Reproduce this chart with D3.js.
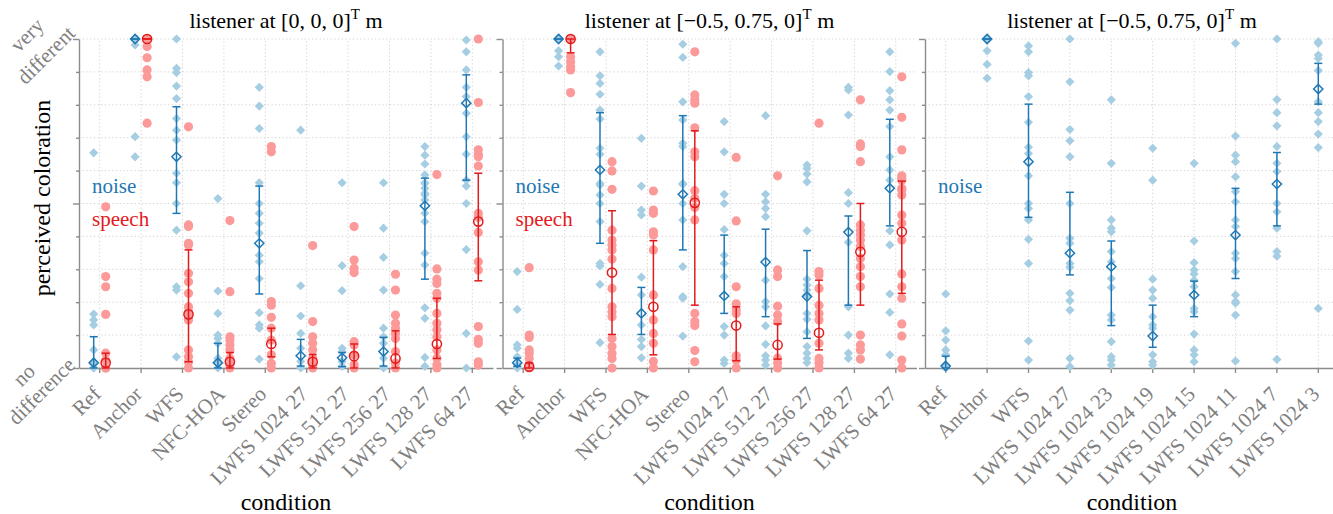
<!DOCTYPE html>
<html><head><meta charset="utf-8">
<script src="https://cdn.jsdelivr.net/npm/d3@7"></script>
<style>
html,body{margin:0;padding:0;background:#fff;}
text{font-family:'Liberation Serif','Times New Roman',serif;}
</style></head>
<body>
<script>
// ---------- DATA ----------
const catsA = ["Ref","Anchor","WFS","NFC-HOA","Stereo","LWFS 1024 27","LWFS 512 27","LWFS 256 27","LWFS 128 27","LWFS 64 27"];
const catsB = ["Ref","Anchor","WFS","LWFS 1024 27","LWFS 1024 23","LWFS 1024 19","LWFS 1024 15","LWFS 1024 11","LWFS 1024 7","LWFS 1024 3"];
const yTicks = [0,0.1,0.2,0.3,0.4,0.5,0.6,0.7,0.8,0.9,1];
const yMajor = [0,0.5,1];
const yLabelsTop = ["very","different"];
const yLabelsBottom = ["no","difference"];

// panel 1: listener at [0,0,0]
const p1NoisePts = [
 [0.654,0.164,0.146,0.131,0.055,0.015,0,0],
 [1.0,0.982,0.703,0.642,1.0,1.0],
 [1.0,0.911,0.898,0.857,0.819,0.758,0.723,0.693,0.592,0.563,0.5,0.419,0.247,0.237,0.034],
 [0.515,0.234,0.166,0.1,0.09,0.075,0.03,0.015,0],
 [0.853,0.796,0.728,0.563,0.5,0.47,0.44,0.41,0.343,0.323,0.272,0.168,0.131,0.121,0.027],
 [0.723,0.25,0.158,0.105,0.06,0.02,0],
 [0.563,0.311,0.235,0.06,0.05,0.02,0.005],
 [0.563,0.425,0.336,0.237,0.121,0.095,0.075,0.03,0],
 [0.673,0.647,0.62,0.587,0.563,0.546,0.531,0.561,0.526,0.511,0.47,0.445,0.349,0.313,0.183,0.151,0.032,0.005],
 [0.997,0.961,0.906,0.853,0.825,0.774,0.703,0.65,0.553,0.571,0.5,0.36,0.105,0]
];
const p1NoiseMean = [0.016,1.0,0.642,0.016,0.379,0.037,0.031,0.05,0.493,0.805];
const p1NoiseLo   = [0,1.0,0.470,0,0.225,0.006,0.004,0.006,0.27,0.571];
const p1NoiseHi   = [0.095,1.0,0.794,0.075,0.553,0.087,0.047,0.093,0.577,0.891];
const p1SpeechPts = [
 [0.49,0.278,0.247,0.163,0.045,0.024,0,0],
 [1.0,0.977,0.943,0.906,0.885,0.744,1.0],
 [0.733,0.435,0.43,0.379,0.374,0.288,0.262,0.227,0.186,0.171,0.156,0.146,0.055,0.034,0.018,0],
 [0.448,0.232,0.095,0.085,0.07,0.055,0.03,0.01,0],
 [0.673,0.657,0.202,0.191,0.154,0.121,0.085,0.04,0.014,0],
 [0.372,0.141,0.095,0.075,0.055,0.03,0.01,0],
 [0.43,0.328,0.303,0.29,0.08,0.07,0.04,0.01,0],
 [0.285,0.237,0.161,0.136,0.121,0.105,0.09,0.05,0.015,0],
 [0.588,0.301,0.27,0.257,0.227,0.212,0.166,0.136,0.116,0.095,0.055,0.03,0.01,0],
 [1.0,0.807,0.663,0.65,0.642,0.614,0.47,0.458,0.412,0.323,0.298,0.126,0.087,0.075,0.019,0.009]
];
const p1SpeechMean = [0.016,1.0,0.163,0.019,0.073,0.019,0.036,0.029,0.073,0.445];
const p1SpeechLo   = [0,1.0,0.019,0,0.034,0,0,0,0.029,0.265];
const p1SpeechHi   = [0.045,1.0,0.359,0.047,0.121,0.041,0.073,0.113,0.212,0.592];

// panel 2: listener at [-0.5,0.75,0]
const p2NoisePts = [
 [0.293,0.178,0.07,0.06,0.034,0.01,0],
 [1.0,0.964,0.946,0.918],
 [0.961,0.888,0.865,0.832,0.784,0.757,0.668,0.65,0.556,0.526,0.561,0.5,0.445,0.318,0.31,0.254,0.077],
 [0.698,0.553,0.48,0.465,0.276,0.222,0.131,0.087,0.065,0.031],
 [0.984,0.944,0.809,0.754,0.683,0.673,0.558,0.561,0.5,0.45,0.308,0.217,0.212,0.097],
 [0.749,0.657,0.528,0.5,0.421,0.343,0.318,0.278,0.126,0.1,0.024,0.014],
 [0.767,0.528,0.505,0.485,0.46,0.267,0.202,0.186,0.128,0.072,0.037,0.024,0.009],
 [0.617,0.607,0.59,0.566,0.417,0.27,0.252,0.237,0.222,0.166,0.148,0.11,0.065,0.045,0.029,0.016],
 [0.853,0.845,0.769,0.533,0.5,0.382,0.186,0.1,0.045,0.029],
 [0.961,0.901,0.843,0.815,0.784,0.734,0.642,0.602,0.571,0.417,0.374,0.225,0.169,0.04]
];
const p2NoiseMean = [0.016,1.0,0.602,0.166,0.528,0.219,0.322,0.217,0.413,0.546];
const p2NoiseLo   = [0.005,1.0,0.379,0.102,0.359,0.166,0.156,0.09,0.191,0.432];
const p2NoiseHi   = [0.03,1.0,0.776,0.245,0.767,0.404,0.422,0.357,0.462,0.756];
const p2SpeechPts = [
 [0.305,0.1,0.093,0.055,0.045,0.029,0.01,0],
 [1.0,0.946,0.931,0.916,0.906,0.837],
 [0.627,0.599,0.543,0.419,0.389,0.374,0.359,0.331,0.242,0.186,0.171,0.156,0.09,0.065,0.045,0.029,0],
 [0.538,0.48,0.47,0.414,0.404,0.359,0.222,0.146,0.105,0.075,0.02,0],
 [0.961,0.83,0.815,0.805,0.73,0.657,0.642,0.539,0.516,0.488,0.45,0.166,0.141,0.129,0.053,0.019],
 [0.64,0.447,0.247,0.195,0.176,0.166,0.037,0.024,0],
 [0.584,0.298,0.278,0.188,0.161,0.141,0.03,0.015,0],
 [0.744,0.293,0.283,0.242,0.191,0.166,0.146,0.075,0.029,0.016,0],
 [0.815,0.681,0.673,0.627,0.435,0.419,0.404,0.389,0.369,0.333,0.308,0.278,0.247,0.1,0.07,0.055,0.027],
 [0.885,0.762,0.663,0.584,0.577,0.541,0.526,0.571,0.546,0.465,0.44,0.389,0.286,0.247,0.212,0.134,0.097,0.024,0]
];
const p2SpeechMean = [0.004,1.0,0.29,0.186,0.502,0.129,0.07,0.107,0.353,0.414];
const p2SpeechLo   = [0,0.958,0.102,0.04,0.191,0.022,0.027,0.055,0.191,0.227];
const p2SpeechHi   = [0.015,1.0,0.478,0.387,0.721,0.186,0.134,0.267,0.5,0.568];

// panel 3: listener at [-0.5,0.75,0], noise only
const p3NoisePts = [
 [0.225,0.113,0.085,0.055,0.04,0.01,0],
 [1.0,0.997,0.964,0.923,0.881],
 [0.979,0.961,0.898,0.888,0.825,0.747,0.671,0.652,0.584,0.5,0.485,0.45,0.391,0.318,0.082,0.024],
 [1.0,0.87,0.725,0.691,0.642,0.5,0.394,0.379,0.318,0.306,0.227,0.205,0.176,0.029,0.004],
 [0.815,0.622,0.45,0.425,0.414,0.354,0.323,0.272,0.245,0.161,0.146,0.08,0.034,0.024,0.009],
 [0.668,0.571,0.27,0.237,0.212,0.156,0.131,0.121,0.04,0.019,0.009],
 [0.622,0.386,0.32,0.298,0.286,0.267,0.247,0.181,0.171,0.103,0.055,0.04,0.019],
 [0.987,0.705,0.647,0.627,0.581,0.536,0.505,0.45,0.43,0.349,0.333,0.293,0.222,0.202,0.197,0.161,0.021],
 [1.0,0.816,0.776,0.736,0.673,0.622,0.597,0.5,0.475,0.425,0.354,0.34,0.026],
 [0.992,0.987,0.951,0.941,0.904,0.809,0.776,0.749,0.711,0.67,0.181]
];
const p3NoiseMean = [0.006,1.0,0.627,0.349,0.308,0.097,0.222,0.404,0.559,0.848];
const p3NoiseLo   = [0,1.0,0.458,0.283,0.129,0.063,0.156,0.272,0.432,0.802];
const p3NoiseHi   = [0.036,1.0,0.802,0.534,0.386,0.191,0.264,0.546,0.655,0.926];

const titleP1 = "[0, 0, 0]";
const titleP2 = "[\u22120.5, 0.75, 0]";
const titleP3 = "[\u22120.5, 0.75, 0]";

// ---------- STYLE ----------
const W = 1333, H = 514;
const C = {noisePt:"#a6cee3", noise:"#1f78b4", speechPt:"#fb9a99", speech:"#e31a1c",
           axis:"#8c8c8c", grid:"#d4d4d4", label:"#808080"};
const panelW = 414;
const svg = d3.select("body").append("svg").attr("width",W).attr("height",H);
const y = d3.scaleLinear().domain([0,1]).range([368,39]);

function diamond(r){ return `M0,${-r}L${r},0L0,${r}L${-r},0Z`; }

function drawPanel(p){
  const x = d3.scaleBand().domain(p.cats).range([p.x0, p.x0+panelW]);
  const cx = c => x(c) + x.bandwidth()/2;
  const g = svg.append("g");
  const xr = Math.min(p.x0+panelW, W);

  // grid
  g.append("g").selectAll("line").data(yTicks.filter(d=>d>0)).join("line")
    .attr("x1",p.x0).attr("x2",xr).attr("y1",d=>y(d)).attr("y2",d=>y(d))
    .attr("stroke",C.grid).attr("stroke-width",1).attr("stroke-dasharray","1.3,2.4");
  g.append("g").selectAll("line").data(p.cats).join("line")
    .attr("x1",cx).attr("x2",cx).attr("y1",y(0)).attr("y2",y(1))
    .attr("stroke",C.grid).attr("stroke-width",1).attr("stroke-dasharray","1.3,2.4");

  // axes
  const xa = g.append("g").attr("transform",`translate(0,${y(0)})`)
    .call(d3.axisBottom(x).tickSize(5).tickSizeOuter(0).tickFormat(""));
  const ya = g.append("g").attr("transform",`translate(${p.x0},0)`)
    .call(d3.axisLeft(y).tickValues(yTicks).tickSize(3).tickSizeOuter(0).tickFormat(""));
  [xa,ya].forEach(a=>{
    a.select(".domain").attr("stroke",C.axis).attr("stroke-width",1.4);
    a.selectAll(".tick line").attr("stroke",C.axis).attr("stroke-width",1.4);
  });
  ya.selectAll(".tick").filter(d=>yMajor.some(m=>Math.abs(m-d)<1e-9)).select("line").attr("x2",-6);

  // tick labels
  g.append("g").selectAll("text").data(p.cats).join("text")
    .attr("transform",c=>`translate(${cx(c)-1},${y(0)+24}) rotate(-45)`)
    .attr("text-anchor","end").attr("dominant-baseline","middle")
    .attr("font-size",21).attr("fill",C.label).text(c=>c);

  // series
  p.series.forEach(s=>{
    const sg = g.append("g");
    const pts = [];
    s.pts.forEach((arr,i)=>arr.forEach(v=>pts.push({c:p.cats[i],v})));
    if(s.shape==="d"){
      sg.selectAll("path.pt").data(pts).join("path").attr("class","pt")
        .attr("d",diamond(4.6)).attr("transform",d=>`translate(${cx(d.c)+s.off},${y(d.v)})`)
        .attr("fill",C.noisePt);
    } else {
      sg.selectAll("circle.pt").data(pts).join("circle").attr("class","pt")
        .attr("cx",d=>cx(d.c)+s.off).attr("cy",d=>y(d.v)).attr("r",4.6)
        .attr("fill",C.speechPt);
    }
    const col = s.shape==="d" ? C.noise : C.speech;
    const ed = p.cats.map((c,i)=>({c,m:s.mean[i],lo:s.lo[i],hi:s.hi[i]}));
    sg.selectAll("line.eb").data(ed).join("line").attr("class","eb")
      .attr("x1",d=>cx(d.c)+s.off).attr("x2",d=>cx(d.c)+s.off)
      .attr("y1",d=>y(d.lo)).attr("y2",d=>y(d.hi))
      .attr("stroke",col).attr("stroke-width",1.5);
    ["lo","hi"].forEach(k=>{
      sg.selectAll("line.cap"+k).data(ed).join("line").attr("class","cap"+k)
        .attr("x1",d=>cx(d.c)+s.off-4).attr("x2",d=>cx(d.c)+s.off+4)
        .attr("y1",d=>y(d[k])).attr("y2",d=>y(d[k]))
        .attr("stroke",col).attr("stroke-width",1.5);
    });
    if(s.shape==="d"){
      sg.selectAll("path.mn").data(ed).join("path").attr("class","mn")
        .attr("d",diamond(4.6)).attr("transform",d=>`translate(${cx(d.c)+s.off},${y(d.m)})`)
        .attr("fill","none").attr("stroke",col).attr("stroke-width",1.5);
    } else {
      sg.selectAll("circle.mn").data(ed).join("circle").attr("class","mn")
        .attr("cx",d=>cx(d.c)+s.off).attr("cy",d=>y(d.m)).attr("r",4.6)
        .attr("fill","none").attr("stroke",col).attr("stroke-width",1.5);
    }
  });

  // legend
  g.append("text").attr("x",p.x0+13).attr("y",193).attr("font-size",21).attr("fill",C.noise).text("noise");
  if(p.series.length>1)
    g.append("text").attr("x",p.x0+13).attr("y",226).attr("font-size",21).attr("fill",C.speech).text("speech");

  // title
  const t = g.append("text").attr("x",p.x0+panelW/2).attr("y",28).attr("text-anchor","middle")
    .attr("font-size",22).attr("fill","#000");
  t.append("tspan").text("listener at "+p.title);
  t.append("tspan").attr("font-size",15).attr("dy",-9).text("T");
  t.append("tspan").attr("dy",9).text("\u00a0m");

  // x label
  g.append("text").attr("x",p.x0+panelW/2).attr("y",510).attr("text-anchor","middle")
    .attr("font-size",24).attr("fill","#000").text("condition");
}

drawPanel({x0:79, cats:catsA, title:titleP1, series:[
  {shape:"d",off:-6,pts:p1NoisePts,mean:p1NoiseMean,lo:p1NoiseLo,hi:p1NoiseHi},
  {shape:"o",off:6,pts:p1SpeechPts,mean:p1SpeechMean,lo:p1SpeechLo,hi:p1SpeechHi}]});
drawPanel({x0:502.5, cats:catsA, title:titleP2, series:[
  {shape:"d",off:-6,pts:p2NoisePts,mean:p2NoiseMean,lo:p2NoiseLo,hi:p2NoiseHi},
  {shape:"o",off:6,pts:p2SpeechPts,mean:p2SpeechMean,lo:p2SpeechLo,hi:p2SpeechHi}]});
drawPanel({x0:925, cats:catsB, title:titleP3, series:[
  {shape:"d",off:0,pts:p3NoisePts,mean:p3NoiseMean,lo:p3NoiseLo,hi:p3NoiseHi}]});

// y-axis end labels
const yl = svg.append("g").attr("font-size",21).attr("fill",C.label).attr("text-anchor","middle");
yl.append("text").attr("transform","translate(32,40) rotate(-45)").text(yLabelsTop[0]);
yl.append("text").attr("transform","translate(51,60) rotate(-45)").text(yLabelsTop[1]);
yl.append("text").attr("transform","translate(29,380) rotate(-45)").text(yLabelsBottom[0]);
yl.append("text").attr("transform","translate(46.5,396) rotate(-45)").text(yLabelsBottom[1]);

// y label
svg.append("text").attr("transform","translate(50,198) rotate(-90)").attr("text-anchor","middle")
  .attr("font-size",24).attr("fill","#000").text("perceived coloration");
</script>
</body></html>
